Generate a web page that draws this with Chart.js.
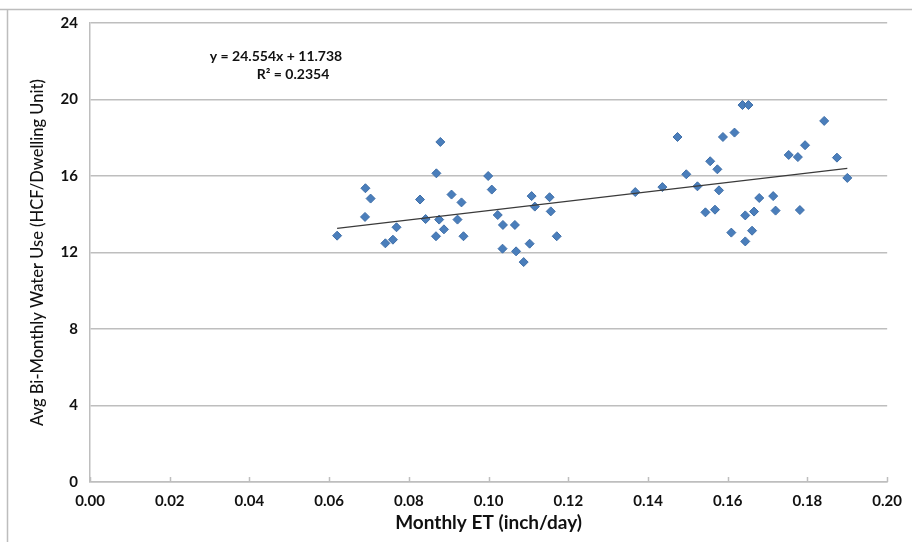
<!DOCTYPE html>
<html>
<head>
<meta charset="utf-8">
<script src="https://cdn.jsdelivr.net/npm/chart.js@4/dist/chart.umd.min.js"></script>
<style>
  html, body { margin: 0; padding: 0; background: #ffffff; }
  #wrap { width: 912px; height: 542px; position: relative; }
</style>
</head>
<body>
<div id="wrap"><canvas id="c" width="912" height="542"></canvas></div>
<script>
// Monthly ET (inch/day)
const etX = [
  0.0620, 0.0691, 0.0704, 0.0690, 0.0741, 0.0760, 0.0769, 0.0828, 0.0842, 0.0869,
  0.0879, 0.0868, 0.0876, 0.0888, 0.0907, 0.0922, 0.0932, 0.0937, 0.0999, 0.1008,
  0.1023, 0.1036, 0.1035, 0.1066, 0.1069, 0.1088, 0.1103, 0.1108, 0.1116, 0.1153,
  0.1156, 0.1171,
  0.1368, 0.1436, 0.1474, 0.1496, 0.1524, 0.1544, 0.1556, 0.1568, 0.1574, 0.1578,
  0.1588, 0.1609, 0.1617, 0.1637, 0.1652, 0.1644, 0.1644, 0.1661, 0.1666, 0.1679,
  0.1714, 0.1720, 0.1753, 0.1776, 0.1781, 0.1794, 0.1842, 0.1874, 0.1900
];
// Avg Bi-Monthly Water Use (HCF/Dwelling Unit)
const useY = [
  12.88, 15.36, 14.82, 13.86, 12.48, 12.67, 13.32, 14.77, 13.75, 16.14,
  17.78, 12.85, 13.72, 13.21, 15.03, 13.72, 14.62, 12.85, 16.00, 15.29,
  13.96, 13.44, 12.20, 13.44, 12.06, 11.50, 12.46, 14.95, 14.40, 14.89,
  14.15, 12.85,
  15.16, 15.42, 18.04, 16.09, 15.46, 14.10, 16.77, 14.24, 16.35, 15.25,
  18.04, 13.04, 18.27, 19.71, 19.71, 13.94, 12.58, 13.14, 14.14, 14.85,
  14.95, 14.19, 17.10, 16.99, 14.22, 17.61, 18.88, 16.96, 15.90
];
// Linear trendline endpoints (from the printed equation y = 24.554x + 11.738)
const trendX = [0.0620, 0.1900];
const trendY = [13.26, 16.40];
const xTicks = [0.00, 0.02, 0.04, 0.06, 0.08, 0.10, 0.12, 0.14, 0.16, 0.18, 0.20];
const yTicks = [0, 4, 8, 12, 16, 20, 24];
const equationLines = ["y = 24.554x + 11.738", "R\u00B2 = 0.2354"];
const xTitle = "Monthly ET (inch/day)";
const yTitle = "Avg Bi-Monthly Water Use (HCF/Dwelling Unit)";

const FONT = "Lato, 'Open Sans', 'DejaVu Sans', sans-serif";
const GRID = "#BEBEBE";

const points = etX.map((x, i) => ({ x: x, y: useY[i] }));
const trend = trendX.map((x, i) => ({ x: x, y: trendY[i] }));

const framePlugin = {
  id: 'frame',
  beforeDraw(chart) {
    const ctx = chart.ctx;
    ctx.save();
    ctx.fillStyle = '#ffffff';
    ctx.fillRect(0, 0, chart.width, chart.height);
    ctx.strokeStyle = '#BDBDBD';
    ctx.lineWidth = 1.5;
    ctx.beginPath();
    ctx.moveTo(0, 9.5);
    ctx.lineTo(chart.width, 9.5);
    ctx.moveTo(7.5, 9.5);
    ctx.lineTo(7.5, chart.height);
    ctx.stroke();
    ctx.restore();
  },
  afterDraw(chart) {
    const ctx = chart.ctx;
    const xs = chart.scales.x;
    const ys = chart.scales.y;
    const y0 = ys.getPixelForValue(0);
    ctx.save();
    ctx.strokeStyle = GRID;
    ctx.lineWidth = 1.5;
    ctx.beginPath();
    xTicks.forEach(v => {
      const px = Math.round(xs.getPixelForValue(v)) + 0.5;
      ctx.moveTo(px, y0);
      ctx.lineTo(px, y0 - 5);
    });
    ctx.stroke();
    // equation label
    ctx.fillStyle = '#111111';
    ctx.font = "bold 14px " + FONT;
    ctx.textAlign = 'center';
    ctx.textBaseline = 'middle';
    ctx.fillText(equationLines[0], 276, 56);
    ctx.fillText(equationLines[1], 293, 74);
    ctx.restore();
  }
};

new Chart(document.getElementById('c'), {
  type: 'scatter',
  data: {
    datasets: [
      {
        label: 'Water use',
        data: points,
        pointStyle: 'rectRot',
        pointRadius: 4.5,
        backgroundColor: '#4A7EBB',
        borderColor: '#3F6FA9',
        borderWidth: 1,
        order: 2
      },
      {
        label: 'Linear',
        type: 'line',
        data: trend,
        showLine: true,
        pointRadius: 0,
        borderColor: '#3a3a3a',
        borderWidth: 1.2,
        fill: false,
        order: 1
      }
    ]
  },
  options: {
    responsive: false,
    animation: false,
    devicePixelRatio: 1,
    layout: { padding: { top: 23, right: 24, bottom: 0, left: 0 } },
    plugins: {
      legend: { display: false },
      tooltip: { enabled: false }
    },
    scales: {
      x: {
        type: 'linear',
        min: 0,
        max: 0.2,
        afterFit(scale) { scale.height = 60; },
        afterBuildTicks(scale) { scale.ticks = xTicks.map(v => ({ value: v })); },
        grid: { display: false, drawTicks: false },
        border: { display: true, color: GRID, width: 1.5 },
        ticks: {
          padding: 10,
          color: '#111111',
          font: { family: FONT, size: 15, weight: 'bold' },
          maxRotation: 0,
          callback: v => v.toFixed(2)
        },
        title: {
          display: true,
          text: xTitle,
          color: '#111111',
          font: { family: FONT, size: 19, weight: 'bold' },
          padding: { top: 0, bottom: 8 }
        }
      },
      y: {
        type: 'linear',
        min: 0,
        max: 24,
        afterFit(scale) { scale.width = 90; },
        afterBuildTicks(scale) { scale.ticks = yTicks.map(v => ({ value: v })); },
        grid: { display: true, color: GRID, lineWidth: 1.5, drawTicks: false },
        border: { display: true, color: GRID, width: 1.5 },
        ticks: {
          padding: 12,
          color: '#111111',
          font: { family: FONT, size: 15, weight: 'bold' }
        },
        title: {
          display: true,
          text: yTitle,
          color: '#111111',
          font: { family: FONT, size: 16.5, weight: '500' },
          padding: { top: 28, bottom: 0 }
        }
      }
    }
  },
  plugins: [framePlugin]
});
</script>
</body>
</html>
